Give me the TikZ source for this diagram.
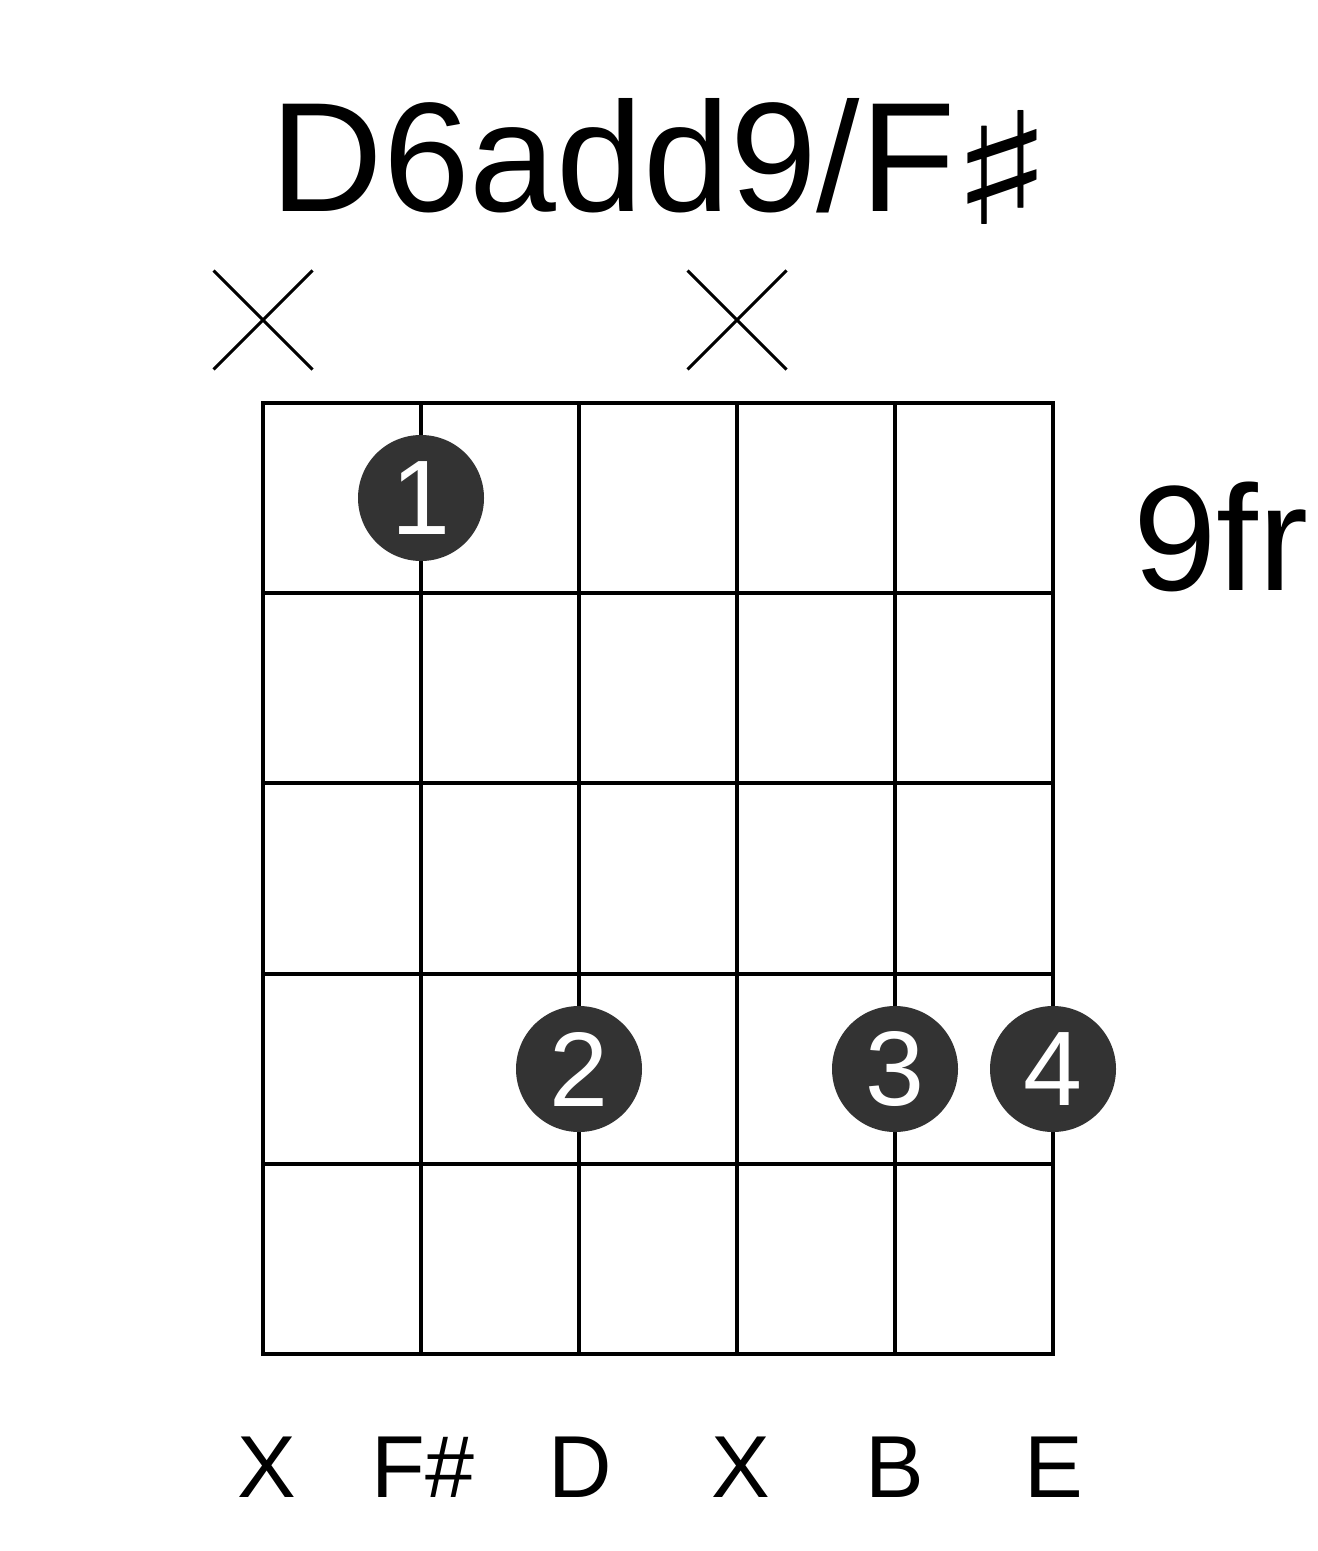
\documentclass[tikz,border=0pt]{standalone}
\usepackage{fontspec}
\setmainfont{Liberation Sans}
\newfontfamily\symfont{DejaVu Sans}
\usetikzlibrary{shapes.misc}
\definecolor{dotgray}{HTML}{333333}
\begin{document}
\begin{tikzpicture}[x=0.5pt,y=-0.5pt]
    \tikzstyle{gridline}=[draw=black,line width=2pt,line cap=rect]
    \tikzstyle{finger}=[circle,fill=dotgray,text=white,minimum size=63pt,inner sep=0pt,font=\fontsize{53}{53}\selectfont]
    \tikzstyle{mute}=[cross out,draw=black,line width=1.5pt,minimum size=48pt,inner sep=0pt]
    \tikzstyle{note}=[anchor=base,font=\fontsize{44}{44}\selectfont]
    \useasboundingbox (0,0) rectangle (1317,1551);

    \node[anchor=base,font=\fontsize{78}{78}\selectfont] (title) at (663,212)
        {D6add9/F\kern-3pt\raisebox{-6.5pt}{\scalebox{1.4}[1]{\symfont ♯}}};

    \foreach \s in {0,...,5}
        \draw[gridline] (263+158*\s,403) -- (263+158*\s,1354);
    \foreach \f in {0,...,5}
        \draw[gridline] (263,403+190.2*\f) -- (1053,403+190.2*\f);

    \foreach \num/\x in {1/263, 2/737}
        \node[mute] (M-\num) at (\x,320) {};

    \foreach \num/\x/\y in {1/421/498, 2/579/1069, 3/895/1069, 4/1053/1069}
        \node[finger] (F-\num) at (\x,\y) {\num};

    \node[anchor=base west,font=\fontsize{75}{75}\selectfont] (fret) at (1126,590) {9fr};

    \foreach \num/\x/\name in {1/267/X, 2/423/{F\#}, 3/580/D, 4/741/X, 5/895/B, 6/1054/E}
        \node[note] (N-\num) at (\x,1497) {\name};
\end{tikzpicture}
\end{document}
